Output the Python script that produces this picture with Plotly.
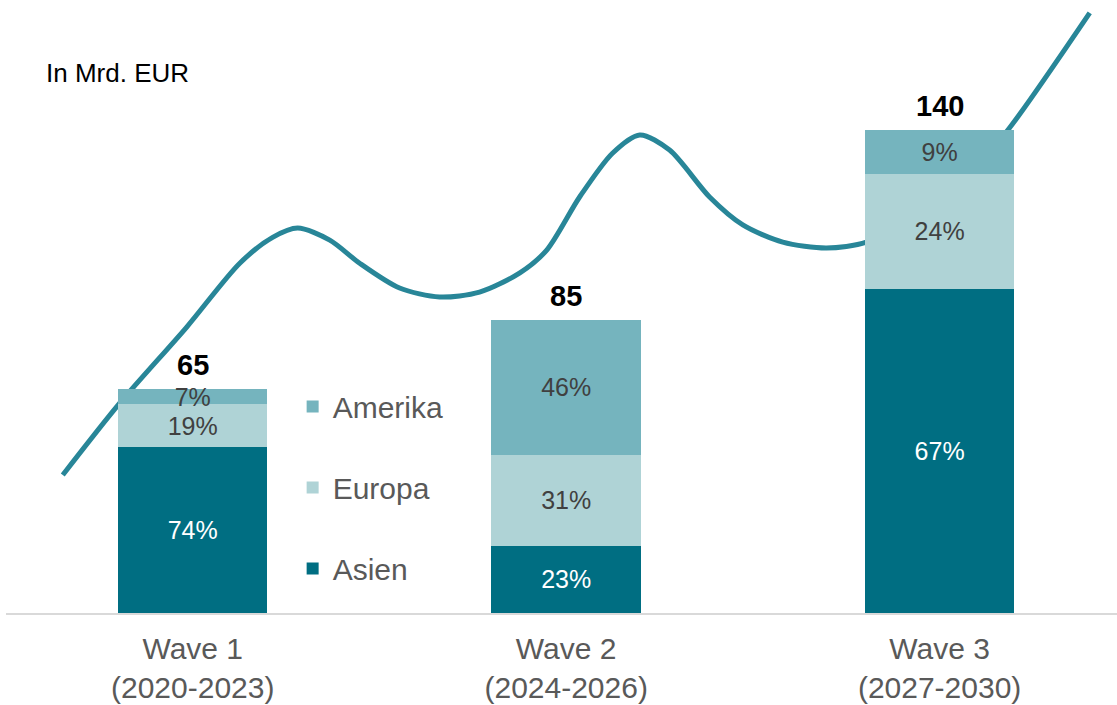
import plotly.graph_objects as go

# ---- data ----
categories = ["Wave 1<br>(2020-2023)", "Wave 2<br>(2024-2026)", "Wave 3<br>(2027-2030)"]
x_pos = [0, 1, 2]
totals = [65, 85, 140]
asien_pct = [74, 23, 67]
europa_pct = [19, 31, 24]
amerika_pct = [7, 46, 9]

# decorative trend curve (category units, Mrd. EUR)
trend_x = [-0.348, -0.195, -0.016, 0.126, 0.214, 0.281, 0.367, 0.447, 0.554, 0.661,
           0.768, 0.876, 0.948, 1.036, 1.124, 1.197, 1.277, 1.384, 1.473, 1.580,
           1.697, 1.804, 1.946, 2.086, 2.187, 2.402]
trend_y = [40.0, 60.9, 82.9, 101.4, 108.9, 111.6, 108.1, 101.4, 94.2, 91.6,
           93.0, 98.6, 105.2, 120.6, 133.3, 138.6, 134.2, 120.6, 112.5, 107.5,
           105.8, 107.5, 116.2, 127.8, 140.6, 174.0]

# ---- styles ----
C_ASIEN = "#006E82"
C_EUROPA = "#AFD3D6"
C_AMERIKA = "#75B4BE"
C_LINE = "#288698"
FONT = "Arial, Liberation Sans, sans-serif"

def seg(total, pct):
    return [t * p / 100 for t, p in zip(total, pct)]

fig = go.Figure()

# line on base subplot (drawn beneath bars)
fig.add_trace(go.Scatter(x=trend_x, y=trend_y, mode="lines", line=dict(color=C_LINE, width=5, shape="spline", smoothing=0.8),
                         showlegend=False, hoverinfo="skip", cliponaxis=False, xaxis="x", yaxis="y"))

series = [
    ("Asien", asien_pct, C_ASIEN, "white", 3),
    ("Europa", europa_pct, C_EUROPA, "#404040", 2),
    ("Amerika", amerika_pct, C_AMERIKA, "#404040", 1),
]
for name, pct, col, tcol, rank in series:
    fig.add_trace(go.Bar(
        x=x_pos, y=seg(totals, pct), name=name, legendgroup=name, legendrank=rank,
        marker=dict(color=col, line=dict(width=0)), width=0.4,
        text=[f"{p}%" for p in pct], textposition="inside", insidetextanchor="middle",
        constraintext="none", textangle=0,
        textfont=dict(family=FONT, size=25, color=tcol),
        xaxis="x2", yaxis="y2",
    ))

XR = [-0.5, 2.475]
YR = [0, 175.1]

total_annotations = [
    dict(x=xv, y=tv, xref="x2", yref="y2", text=f"<b>{tv}</b>", showarrow=False,
         xanchor="center", yanchor="bottom", yshift=6,
         font=dict(family=FONT, size=29, color="black"))
    for xv, tv in zip(x_pos, totals)
]

fig.update_layout(
    width=1117, height=705,
    margin=dict(l=6, r=0, t=9, b=92),
    plot_bgcolor="white", paper_bgcolor="white",
    barmode="stack",
    font=dict(family=FONT, color="#595959"),
    xaxis=dict(range=XR, tickvals=x_pos, ticktext=categories, showgrid=False, zeroline=False,
               showline=True, linecolor="#D9D9D9", linewidth=2, ticks="", ticklabelstandoff=8,
               automargin=False,
               tickfont=dict(family=FONT, size=30, color="#595959")),
    yaxis=dict(range=YR, visible=False, showgrid=False, zeroline=False, automargin=False),
    xaxis2=dict(range=XR, overlaying="x", visible=False, showgrid=False, zeroline=False),
    yaxis2=dict(range=YR, overlaying="y", visible=False, showgrid=False, zeroline=False),
    legend=dict(x=0.258, y=0.385, xanchor="left", yanchor="top", traceorder="grouped",
                tracegroupgap=39, font=dict(family=FONT, size=30, color="#595959"),
                bgcolor="rgba(0,0,0,0)"),
    annotations=[dict(text="In Mrd. EUR", xref="paper", yref="paper", x=0.034, y=0.894,
                      xanchor="left", yanchor="middle", showarrow=False,
                      font=dict(family=FONT, size=26, color="black"))] + total_annotations,
    showlegend=True,
)

fig.write_html("out.html", config={"displayModeBar": False},
               post_script="document.body.style.margin='0';")
